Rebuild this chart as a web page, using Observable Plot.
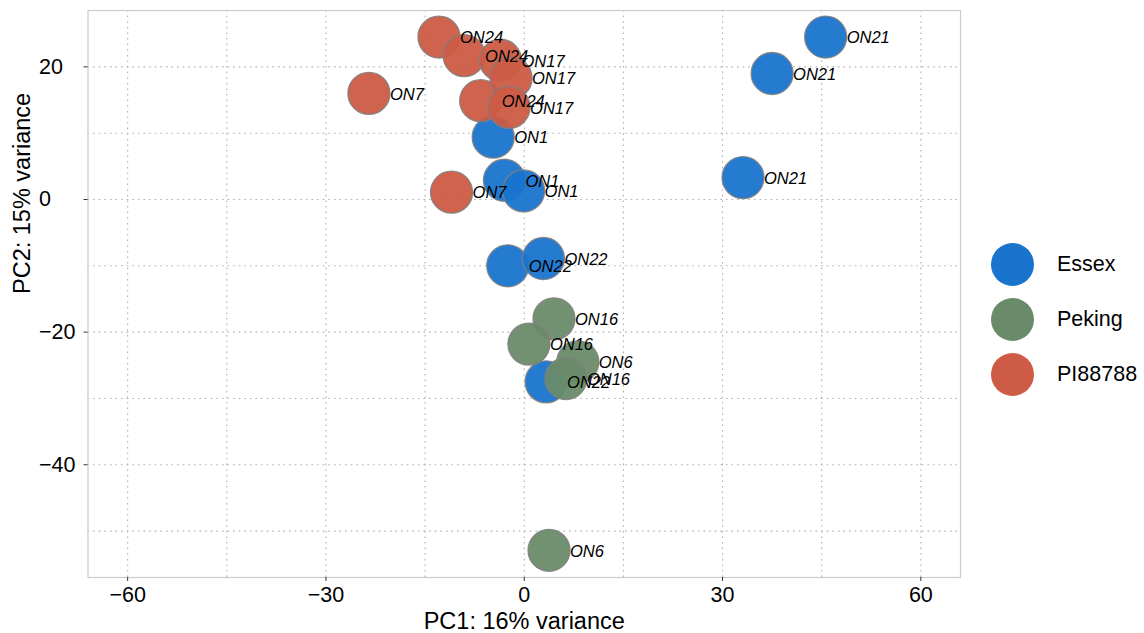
<!DOCTYPE html>
<html>
<head>
<meta charset="utf-8">
<script src="https://cdn.jsdelivr.net/npm/d3@7"></script>
<script src="https://cdn.jsdelivr.net/npm/@observablehq/plot@0.6"></script>
<style>
  body { margin: 0; background: #fff; }
  #wrap { position: relative; width: 1144px; height: 633px; font-family: "Liberation Sans", Arial, sans-serif; }
  #legend { position: absolute; left: 991px; top: 237px; }
  .item { display: flex; align-items: center; height: 55px; }
  .sw { width: 43px; height: 43px; border-radius: 50%; margin-right: 23px; }
  .lab { font-size: 21.5px; color: #000; }
</style>
</head>
<body>
<div id="wrap"><div id="legend"></div></div>
<script>
const samples   = ["ON21","ON21","ON21","ON1","ON1","ON1","ON22","ON22","ON22",
                   "ON16","ON16","ON6","ON16","ON6",
                   "ON24","ON24","ON24","ON17","ON17","ON17","ON7","ON7"];
const cultivars = ["Essex","Essex","Essex","Essex","Essex","Essex","Essex","Essex","Essex",
                   "Peking","Peking","Peking","Peking","Peking",
                   "PI88788","PI88788","PI88788","PI88788","PI88788","PI88788","PI88788","PI88788"];
const pc1 = [45.6, 37.5, 33.1, -4.7, -3.0, -0.1, -2.5, 2.9, 3.3,
             4.5, 0.7, 8.1, 6.3, 3.75,
             -12.9, -9.1, -6.6, -3.6, -2.0, -2.3, -23.5, -11.0];
const pc2 = [24.5, 19.0, 3.3, 9.4, 2.9, 1.3, -10.0, -8.9, -27.5,
             -18.0, -21.8, -24.5, -27.0, -52.9,
             24.5, 21.7, 14.9, 21.0, 18.3, 13.9, 16.0, 1.1];

const groups = ["Essex", "Peking", "PI88788"];
const groupColors = ["#1874CD", "#698B69", "#CD5B45"];
const xTicks = [-60, -30, 0, 30, 60];
const xGrid = [-60, -45, -30, -15, 0, 15, 30, 45, 60];
const yTicks = [-40, -20, 0, 20];
const yGrid = [-50, -40, -30, -20, -10, 0, 10, 20];
const xTitle = "PC1: 16% variance";
const yTitle = "PC2: 15% variance";

const data = samples.map((s, i) => ({sample: s, cultivar: cultivars[i], pc1: pc1[i], pc2: pc2[i]}));
const fmt = d3.format("d");

const chart = Plot.plot({
  width: 1144,
  height: 633,
  marginLeft: 87.5,
  marginRight: 184,
  marginTop: 10,
  marginBottom: 56,
  style: {fontFamily: "'Liberation Sans', Arial, sans-serif", fontSize: "21.5px", background: "white", overflow: "visible"},
  x: {domain: [-66, 66]},
  y: {domain: [-57, 28.5]},
  color: {domain: groups, range: groupColors},
  marks: [
    Plot.gridX(xGrid, {stroke: "#b0b0b0", strokeOpacity: 1, strokeWidth: 1.1, strokeDasharray: "1.6,4"}),
    Plot.gridY(yGrid, {stroke: "#b0b0b0", strokeOpacity: 1, strokeWidth: 1.1, strokeDasharray: "1.6,4"}),
    Plot.frame({stroke: "#cccccc", strokeWidth: 1.2}),
    Plot.axisX(xTicks, {tickSize: 4, tickPadding: 5, tickFormat: fmt, label: null, stroke: "#333", fontSize: 21.5}),
    Plot.axisY(yTicks, {tickSize: 4, tickPadding: 45, textAnchor: "start", tickFormat: fmt, label: null, stroke: "#333", fontSize: 21.5}),
    Plot.text([xTitle], {text: d => d, frameAnchor: "bottom", lineAnchor: "middle", dy: 44, fontSize: 23.5, fill: "#000"}),
    Plot.text([yTitle], {text: d => d, frameAnchor: "left", lineAnchor: "middle", dx: -65.5, rotate: -90, fontSize: 23.5, fill: "#000"}),
    Plot.dot(data, {x: "pc1", y: "pc2", r: 21, fill: "cultivar", fillOpacity: 0.95, stroke: "#808080", strokeOpacity: 0.9, strokeWidth: 1.3}),
    Plot.text(data, {x: "pc1", y: "pc2", text: "sample", dx: 21, dy: 1, textAnchor: "start", fontStyle: "italic", fontSize: 16.5, fill: "#000"})
  ]
});
document.getElementById("wrap").prepend(chart);

const legend = document.getElementById("legend");
groups.forEach((g, i) => {
  const item = document.createElement("div");
  item.className = "item";
  const sw = document.createElement("div");
  sw.className = "sw";
  sw.style.background = groupColors[i];
  const lab = document.createElement("div");
  lab.className = "lab";
  lab.textContent = g;
  item.append(sw, lab);
  legend.append(item);
});
</script>
</body>
</html>
